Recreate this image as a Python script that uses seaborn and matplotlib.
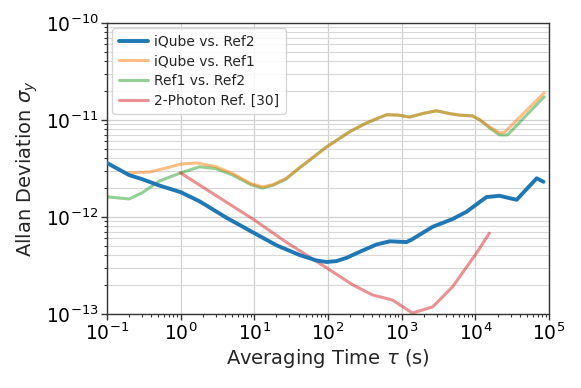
import numpy as np
import pandas as pd
import matplotlib
matplotlib.use("Agg")
import matplotlib.pyplot as plt
import seaborn as sns
from matplotlib.ticker import LogLocator, NullFormatter

# ---- data ----
blue_tau = [0.1, 0.2, 0.3, 0.52, 1, 1.8, 4.2, 10, 20, 41, 70, 96, 130, 178, 267, 457, 690, 1165, 1400, 2630, 4900, 7600, 14100, 21300, 36300, 68000, 84000]
blue_sig = [3.6e-12, 2.7e-12, 2.45e-12, 2.1e-12, 1.8e-12, 1.45e-12, 0.98e-12, 6.8e-13, 5.1e-13, 4.05e-13, 3.55e-13, 3.43e-13, 3.5e-13, 3.78e-13, 4.35e-13, 5.2e-13, 5.6e-13, 5.5e-13, 5.9e-13, 7.9e-13, 9.5e-13, 1.13e-12, 1.6e-12, 1.65e-12, 1.5e-12, 2.5e-12, 2.3e-12]

orange_tau = [0.185, 0.38, 0.7, 1, 1.65, 3, 5.1, 9, 13, 18, 27, 41, 96, 200, 333, 624, 900, 1280, 2000, 2960, 4500, 6100, 9130, 11500, 15500, 21300, 25000, 86000]
orange_sig = [2.84e-12, 2.9e-12, 3.25e-12, 3.5e-12, 3.6e-12, 3.3e-12, 2.8e-12, 2.2e-12, 2.04e-12, 2.15e-12, 2.5e-12, 3.2e-12, 5.27e-12, 7.6e-12, 9.3e-12, 1.13e-11, 1.12e-11, 1.07e-11, 1.17e-11, 1.24e-11, 1.16e-11, 1.12e-11, 1.1e-11, 1.0e-11, 8.5e-12, 7.35e-12, 7.5e-12, 1.9e-11]

green_tau = [0.1, 0.2, 0.3, 0.52, 1, 1.8, 3, 5.1, 9, 13, 18, 27, 41, 96, 200, 333, 624, 900, 1280, 2000, 2960, 4500, 6100, 9130, 11500, 15500, 21300, 27300, 86000]
green_sig = [1.61e-12, 1.53e-12, 1.77e-12, 2.35e-12, 2.84e-12, 3.28e-12, 3.15e-12, 2.7e-12, 2.15e-12, 1.98e-12, 2.12e-12, 2.45e-12, 3.2e-12, 5.27e-12, 7.6e-12, 9.3e-12, 1.13e-11, 1.12e-11, 1.07e-11, 1.17e-11, 1.24e-11, 1.16e-11, 1.12e-11, 1.1e-11, 1.0e-11, 8.3e-12, 7.0e-12, 7.0e-12, 1.73e-11]

red_tau = [1, 10, 27, 96, 215, 400, 750, 1400, 2630, 4900, 10400, 15500]
red_sig = [2.84e-12, 9.3e-13, 5.5e-13, 2.98e-13, 2.0e-13, 1.57e-13, 1.39e-13, 1.02e-13, 1.18e-13, 1.9e-13, 4.25e-13, 6.8e-13]

labels = ["iQube vs. Ref2", "iQube vs. Ref1", "Ref1 vs. Ref2", "2-Photon Ref. [30]"]

sns.set_style("ticks")
plt.rcParams['font.family'] = ['DejaVu Sans']

fig = plt.figure(figsize=(5.81, 3.88), dpi=100)
ax = fig.add_axes([0.184, 0.191, 0.761, 0.750])

pal = sns.color_palette("tab10")
series = [
    (blue_tau, blue_sig, labels[0], pal[0], 2.8, 1.0, 3),
    (orange_tau, orange_sig, labels[1], pal[1], 2.2, 0.5, 2.5),
    (green_tau, green_sig, labels[2], pal[2], 2.2, 0.5, 2),
    (red_tau, red_sig, labels[3], pal[3], 2.2, 0.5, 2),
]
for t, s, lab, c, lw, a, z in series:
    df = pd.DataFrame({"tau": t, "sigma": s})
    sns.lineplot(data=df, x="tau", y="sigma", ax=ax, color=c, lw=lw, alpha=a, label=lab, sort=False, zorder=z)

ax.set_xscale("log")
ax.set_yscale("log")
ax.set_xlim(1e-1, 1e5)
ax.set_ylim(1e-13, 1e-10)
ax.yaxis.set_major_locator(LogLocator(base=10, numticks=10))
ax.yaxis.set_minor_locator(LogLocator(base=10, subs=np.arange(2, 10), numticks=20))
ax.xaxis.set_major_locator(LogLocator(base=10, numticks=10))
ax.xaxis.set_minor_locator(LogLocator(base=10, subs=np.arange(2, 10), numticks=20))
ax.yaxis.set_minor_formatter(NullFormatter())
ax.xaxis.set_minor_formatter(NullFormatter())

ax.grid(True, which="major", axis="both", color="#d0d0d0", lw=0.9)
ax.grid(True, which="minor", axis="y", color="#d8d8d8", lw=0.8)
ax.set_axisbelow(True)

for sp in ax.spines.values():
    sp.set_color("#333333")
    sp.set_linewidth(1.0)
ax.tick_params(which="major", direction="out", length=4, width=1, colors="#333333", labelsize=13.5, labelcolor="black", pad=2)
ax.tick_params(which="minor", direction="out", length=2, width=0.8, colors="#333333")

ax.set_xlabel(r"Averaging Time $\tau$ (s)", fontsize=14, labelpad=2)
ax.set_ylabel(r"Allan Deviation $\sigma_y$", fontsize=14, labelpad=4)

leg = ax.legend(loc="upper left", fontsize=10, frameon=True, handlelength=2.1, handletextpad=0.45,
                borderpad=0.45, labelspacing=0.4, borderaxespad=0.4)
leg.get_frame().set_edgecolor("#cccccc")

fig.savefig("out.png", dpi=100)
